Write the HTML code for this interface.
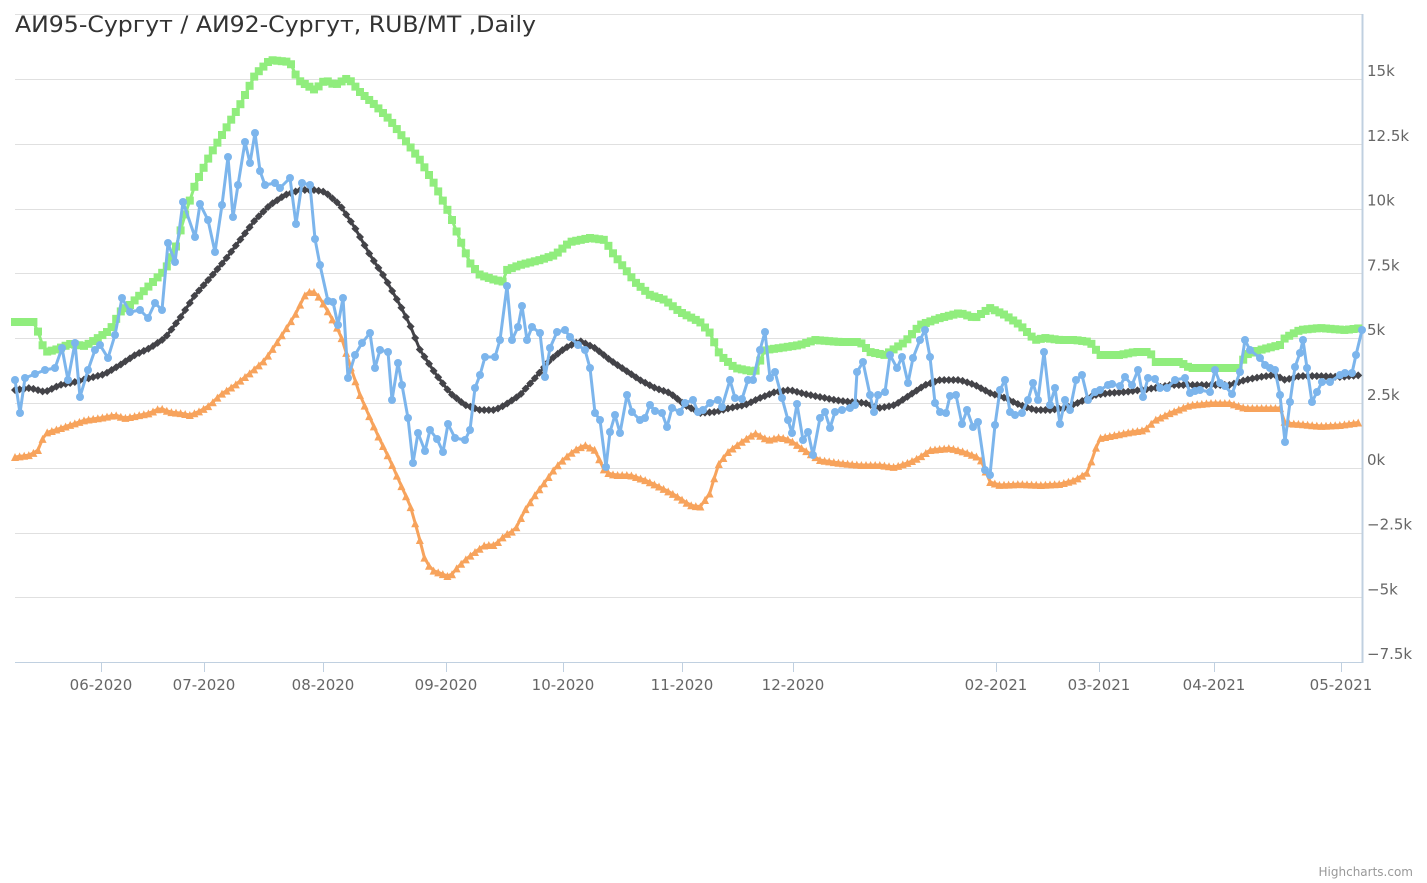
<!DOCTYPE html>
<html><head><meta charset="utf-8"><style>
html,body{margin:0;padding:0;background:#fff;}
svg{display:block;font-family:"DejaVu Sans","Liberation Sans",sans-serif;}
</style></head><body>
<svg id="c" width="1427" height="883" xmlns="http://www.w3.org/2000/svg">
<rect width="1427" height="883" fill="#fff"/>
<g id="grid" stroke="#e0e0e0" stroke-width="1"></g>
<g id="ylab" fill="#666" font-size="15"></g>
<g id="xax"></g>
<line x1="1362.5" y1="14" x2="1362.5" y2="663" stroke="#c0d0e0" stroke-width="2"/>
<line x1="15" y1="662.5" x2="1363" y2="662.5" stroke="#c0d0e0" stroke-width="1"/>
<g id="series"></g>
<text x="15" y="32" font-size="22" fill="#333" textLength="521" lengthAdjust="spacingAndGlyphs">АИ95-Сургут / АИ92-Сургут, RUB/MT ,Daily</text>
<text x="1413" y="876" font-size="12" fill="#999" text-anchor="end">Highcharts.com</text>
</svg>
<script>
var NS="http://www.w3.org/2000/svg";
function el(p,n,a,t){var e=document.createElementNS(NS,n);for(var k in a)e.setAttribute(k,a[k]);if(t!=null)e.textContent=t;p.appendChild(e);return e;}
var g=document.getElementById('grid'),yl=document.getElementById('ylab'),xa=document.getElementById('xax');
el(g,'line',{x1:15,x2:1362,y1:14.5,y2:14.5});
var labs=["15k","12.5k","10k","7.5k","5k","2.5k","0k","-2.5k","-5k","-7.5k"];
for(var i=0;i<10;i++){var y=79+i*64.8;el(g,'line',{x1:15,x2:1362,y1:Math.round(y)+.5,y2:Math.round(y)+.5});
el(yl,'text',{x:1367,y:y-3},labs[i].replace('-','−'));}
var xl=[[101,"06-2020"],[204,"07-2020"],[323,"08-2020"],[446,"09-2020"],[563,"10-2020"],[682,"11-2020"],[793,"12-2020"],[996,"02-2021"],[1099,"03-2021"],[1214,"04-2021"],[1341,"05-2021"]];
xl.forEach(function(a){el(xa,'line',{x1:a[0]+.5,x2:a[0]+.5,y1:662,y2:672,stroke:"#c0d0e0"});el(xa,'text',{x:a[0],y:690,'font-size':15,fill:'#666','text-anchor':'middle'},a[1]);});
function P(s){var a=s.trim().split(/\s+/).map(function(p){return p.split(',').map(Number)});return a;}
var green=P("15,322 35,322 40,338 45,352 55,350 70,344 85,346 95,340 110,330 120,312 130,305 150,285 165,270 175,250 185,215 195,185 210,155 225,130 240,105 255,75 270,60 290,62 298,80 315,90 325,80 335,85 348,78 360,92 375,105 390,120 405,140 420,160 435,185 450,215 460,240 470,263 480,275 495,280 505,282 507,270 520,265 540,260 555,255 570,242 590,238 605,240 612,252 622,265 635,282 650,295 665,300 680,312 700,322 710,333 720,355 735,368 755,372 765,350 780,348 800,345 815,340 840,342 860,342 870,352 885,355 905,342 920,325 940,318 960,313 975,318 990,308 1005,315 1020,325 1035,340 1045,338 1060,340 1075,340 1090,342 1100,355 1120,355 1135,352 1150,352 1155,362 1180,362 1190,368 1220,368 1240,368 1245,355 1260,350 1280,345 1285,338 1300,330 1320,328 1345,330 1362,328");
var blue=P("15,380 20,413 25,378 35,374 45,370 55,368 62,348 68,380 75,343 80,397 88,370 95,350 100,345 108,358 115,335 122,298 130,312 140,310 148,318 155,303 162,310 168,243 175,262 183,202 195,237 200,204 208,220 215,252 222,205 228,157 233,217 238,185 245,142 250,163 255,133 260,171 265,185 275,183 280,188 290,178 296,224 302,183 310,185 315,239 320,265 328,301 333,302 338,325 343,298 348,378 355,355 362,343 370,333 375,368 380,350 388,352 392,400 398,363 402,385 408,418 413,463 418,433 425,451 430,430 437,439 443,452 448,424 455,438 465,440 470,430 475,388 480,375 485,357 495,357 500,340 507,286 512,340 518,327 522,306 527,340 532,327 540,333 545,377 550,348 557,332 565,330 570,337 578,345 585,350 590,368 595,413 600,420 606,467 610,432 615,415 620,433 627,395 632,412 640,420 645,418 650,405 655,411 662,413 667,427 672,408 680,412 685,403 693,400 698,412 703,410 710,403 718,400 722,407 730,380 735,398 742,399 748,380 753,380 760,350 765,332 770,378 775,372 782,398 788,420 792,433 797,404 803,440 808,432 813,455 820,418 825,412 830,428 835,412 842,410 850,408 855,405 857,372 863,362 870,395 874,412 878,395 885,392 890,355 897,368 902,357 908,383 913,358 920,340 925,330 930,357 935,403 940,412 946,413 950,396 956,395 962,424 967,410 973,427 978,422 985,470 990,475 995,425 1000,390 1005,380 1010,412 1015,415 1022,413 1028,400 1033,383 1038,400 1044,352 1050,405 1055,388 1060,424 1065,400 1070,410 1076,380 1082,375 1088,400 1095,392 1100,390 1108,385 1112,384 1120,386 1125,377 1132,385 1138,370 1143,397 1148,378 1155,379 1160,388 1167,388 1175,380 1185,378 1190,393 1195,391 1200,390 1210,392 1215,370 1220,383 1225,386 1232,394 1240,372 1245,340 1250,350 1260,358 1265,365 1270,368 1275,370 1280,395 1285,442 1290,402 1295,367 1300,353 1303,340 1307,368 1312,402 1317,392 1322,382 1330,382 1340,375 1345,373 1352,373 1356,355 1362,330");
var black=P("15,390 30,388 45,392 60,385 75,382 90,378 105,374 120,365 135,355 150,348 165,338 180,318 195,295 210,278 225,260 240,240 255,220 270,205 285,195 300,190 315,190 325,192 340,205 355,228 370,255 385,278 400,305 410,325 420,350 435,373 450,393 465,405 480,410 495,410 505,405 520,395 535,378 550,360 565,348 580,341 595,348 610,360 625,370 640,380 655,388 670,393 685,405 700,413 715,412 730,408 745,405 760,398 775,392 790,390 805,394 820,397 835,400 850,402 865,403 880,408 895,405 910,395 925,385 940,380 960,380 975,385 990,393 1005,398 1020,405 1035,410 1050,410 1065,408 1080,402 1095,395 1110,393 1125,392 1140,390 1155,388 1170,385 1190,385 1210,385 1230,385 1245,380 1260,377 1275,375 1285,380 1300,376 1320,376 1340,377 1362,375");
var orange=P("15,457 30,455 38,450 45,433 55,430 70,425 85,420 100,418 115,415 125,418 140,415 150,413 160,408 170,412 180,413 190,415 200,411 210,405 220,395 235,385 250,373 265,360 280,338 295,315 305,295 312,290 320,298 330,315 340,333 350,365 360,395 370,418 380,440 390,460 400,483 410,505 418,533 425,560 432,570 440,573 450,577 455,570 465,560 475,552 485,545 495,545 505,535 515,530 525,510 535,495 545,482 555,468 565,458 575,450 585,445 595,450 605,472 615,475 630,475 645,480 660,487 675,495 690,505 700,507 710,493 718,465 728,452 740,443 755,433 768,440 780,437 790,440 800,447 812,455 820,460 840,463 860,465 880,465 895,467 910,462 920,457 930,450 950,448 965,452 980,458 990,482 1000,485 1020,484 1040,485 1060,484 1075,480 1088,472 1095,450 1100,438 1115,435 1130,432 1145,430 1155,420 1170,413 1190,405 1210,403 1230,403 1245,408 1270,408 1280,408 1285,423 1300,424 1320,426 1340,425 1362,422");
function resample(pts,step){var out=[];for(var x=pts[0][0];x<=pts[pts.length-1][0]+0.01;x+=step){var j=0;while(j<pts.length-2&&pts[j+1][0]<x)j++;var a=pts[j],b=pts[j+1];var t=(x-a[0])/(b[0]-a[0]);out.push([x,a[1]+(b[1]-a[1])*t]);}return out;}
var S=document.getElementById('series');
function draw(pts,col,mk){el(S,'polyline',{points:pts.map(function(p){return p.join(',')}).join(' '),fill:'none',stroke:col,'stroke-width':3,'stroke-linejoin':'round'});
pts.forEach(function(p){var x=p[0],y=p[1];
if(mk=='sq')el(S,'rect',{x:x-4,y:y-4,width:8,height:8,fill:col});
else if(mk=='ci')el(S,'circle',{cx:x,cy:y,r:4,fill:col});
else if(mk=='di')el(S,'path',{d:'M'+x+' '+(y-4)+'L'+(x+4)+' '+y+'L'+x+' '+(y+4)+'L'+(x-4)+' '+y+'Z',fill:col});
else el(S,'path',{d:'M'+x+' '+(y-4)+'L'+(x+4)+' '+(y+4)+'L'+(x-4)+' '+(y+4)+'Z',fill:col});});}
draw(resample(green,4.6),'#90ed7d','sq');
draw(resample(orange,4.6),'#f7a35c','tr');
draw(resample(black,4.6),'#434348','di');
draw(blue,'#7cb5ec','ci');
</script>
</body></html>
